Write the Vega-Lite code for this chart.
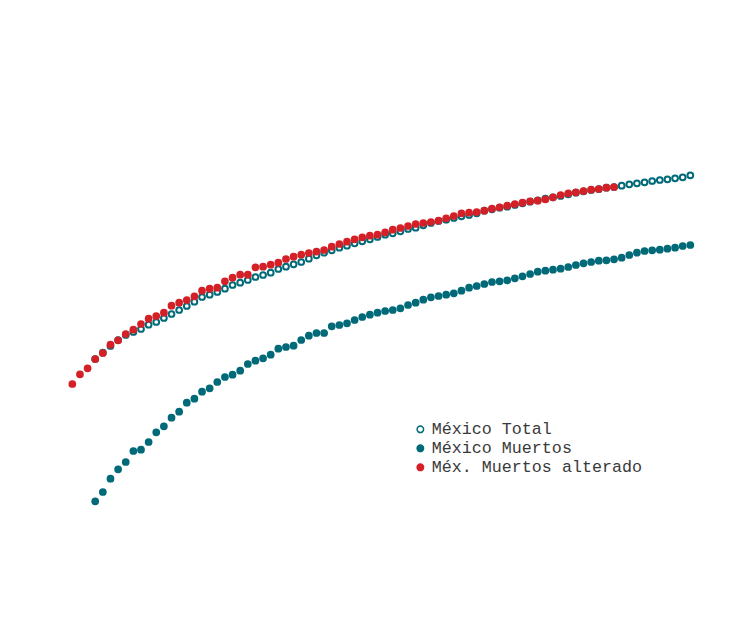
{
  "$schema": "https://vega.github.io/schema/vega-lite/v6.json",
  "width": 750,
  "height": 620,
  "autosize": {"type": "none"},
  "padding": 0,
  "background": "white",
  "config": {
    "view": {"stroke": null},
    "legend": {
      "orient": "none",
      "legendX": 412,
      "legendY": 421,
      "padding": 0,
      "labelFont": "Liberation Mono",
      "labelFontSize": 16.7,
      "labelColor": "#3a3a3a",
      "labelLimit": 0,
      "symbolSize": 42,
      "symbolStrokeWidth": 1.5,
      "rowPadding": 1,
      "labelOffset": 3
    }
  },
  "data": {
    "values": [
      {"serie":"México Total","dia":3,"valor":261},{"serie":"México Total","dia":4,"valor":267.3},{"serie":"México Total","dia":5,"valor":274},{"serie":"México Total","dia":6,"valor":280},{"serie":"México Total","dia":7,"valor":285},{"serie":"México Total","dia":8,"valor":288},{"serie":"México Total","dia":9,"valor":291},{"serie":"México Total","dia":10,"valor":295.3},{"serie":"México Total","dia":11,"valor":298},{"serie":"México Total","dia":12,"valor":302},{"serie":"México Total","dia":13,"valor":306},{"serie":"México Total","dia":14,"valor":310},{"serie":"México Total","dia":15,"valor":314},{"serie":"México Total","dia":16,"valor":318.3},{"serie":"México Total","dia":17,"valor":323},{"serie":"México Total","dia":18,"valor":325.3},{"serie":"México Total","dia":19,"valor":328},{"serie":"México Total","dia":20,"valor":331.3},{"serie":"México Total","dia":21,"valor":335},{"serie":"México Total","dia":22,"valor":337.3},{"serie":"México Total","dia":23,"valor":340},{"serie":"México Total","dia":24,"valor":343},{"serie":"México Total","dia":25,"valor":345},{"serie":"México Total","dia":26,"valor":347.3},{"serie":"México Total","dia":27,"valor":351},{"serie":"México Total","dia":28,"valor":353.3},{"serie":"México Total","dia":29,"valor":355.7},{"serie":"México Total","dia":30,"valor":358},{"serie":"México Total","dia":31,"valor":361.3},{"serie":"México Total","dia":32,"valor":364.7},{"serie":"México Total","dia":33,"valor":367.3},{"serie":"México Total","dia":34,"valor":369.7},{"serie":"México Total","dia":35,"valor":372.3},{"serie":"México Total","dia":36,"valor":374.3},{"serie":"México Total","dia":37,"valor":376.7},{"serie":"México Total","dia":38,"valor":378.7},{"serie":"México Total","dia":39,"valor":380.7},{"serie":"México Total","dia":40,"valor":383},{"serie":"México Total","dia":41,"valor":385.3},{"serie":"México Total","dia":42,"valor":386.7},{"serie":"México Total","dia":43,"valor":388.7},{"serie":"México Total","dia":44,"valor":391},{"serie":"México Total","dia":45,"valor":392.3},{"serie":"México Total","dia":46,"valor":394.7},{"serie":"México Total","dia":47,"valor":397},{"serie":"México Total","dia":48,"valor":399},{"serie":"México Total","dia":49,"valor":400.3},{"serie":"México Total","dia":50,"valor":402},{"serie":"México Total","dia":51,"valor":403.7},{"serie":"México Total","dia":52,"valor":405},{"serie":"México Total","dia":53,"valor":406.7},{"serie":"México Total","dia":54,"valor":409.3},{"serie":"México Total","dia":55,"valor":410.7},{"serie":"México Total","dia":56,"valor":412.3},{"serie":"México Total","dia":57,"valor":413.3},{"serie":"México Total","dia":58,"valor":415},{"serie":"México Total","dia":59,"valor":416.7},{"serie":"México Total","dia":60,"valor":418.3},{"serie":"México Total","dia":61,"valor":419.7},{"serie":"México Total","dia":62,"valor":421.3},{"serie":"México Total","dia":63,"valor":422.7},{"serie":"México Total","dia":64,"valor":424},{"serie":"México Total","dia":65,"valor":425.7},{"serie":"México Total","dia":66,"valor":427.3},{"serie":"México Total","dia":67,"valor":428.7},{"serie":"México Total","dia":68,"valor":430},{"serie":"México Total","dia":69,"valor":431},{"serie":"México Total","dia":70,"valor":432.3},{"serie":"México Total","dia":71,"valor":433},{"serie":"México Total","dia":72,"valor":434.3},{"serie":"México Total","dia":73,"valor":435.7},{"serie":"México Total","dia":74,"valor":436.7},{"serie":"México Total","dia":75,"valor":437.7},{"serie":"México Total","dia":76,"valor":439},{"serie":"México Total","dia":77,"valor":440},{"serie":"México Total","dia":78,"valor":440.7},{"serie":"México Total","dia":79,"valor":441.7},{"serie":"México Total","dia":80,"valor":442.7},{"serie":"México Total","dia":81,"valor":444.7},
      {"serie":"México Muertos","dia":3,"valor":118.7},{"serie":"México Muertos","dia":4,"valor":128},{"serie":"México Muertos","dia":5,"valor":141.3},{"serie":"México Muertos","dia":6,"valor":150.7},{"serie":"México Muertos","dia":7,"valor":158},{"serie":"México Muertos","dia":8,"valor":169},{"serie":"México Muertos","dia":9,"valor":170.3},{"serie":"México Muertos","dia":10,"valor":178},{"serie":"México Muertos","dia":11,"valor":187.7},{"serie":"México Muertos","dia":12,"valor":193.7},{"serie":"México Muertos","dia":13,"valor":202.3},{"serie":"México Muertos","dia":14,"valor":208.3},{"serie":"México Muertos","dia":15,"valor":217.3},{"serie":"México Muertos","dia":16,"valor":221.3},{"serie":"México Muertos","dia":17,"valor":228.3},{"serie":"México Muertos","dia":18,"valor":231.7},{"serie":"México Muertos","dia":19,"valor":238},{"serie":"México Muertos","dia":20,"valor":243},{"serie":"México Muertos","dia":21,"valor":245.3},{"serie":"México Muertos","dia":22,"valor":249.3},{"serie":"México Muertos","dia":23,"valor":256},{"serie":"México Muertos","dia":24,"valor":259.3},{"serie":"México Muertos","dia":25,"valor":261.7},{"serie":"México Muertos","dia":26,"valor":265.3},{"serie":"México Muertos","dia":27,"valor":271.3},{"serie":"México Muertos","dia":28,"valor":273},{"serie":"México Muertos","dia":29,"valor":274.3},{"serie":"México Muertos","dia":30,"valor":280},{"serie":"México Muertos","dia":31,"valor":284.3},{"serie":"México Muertos","dia":32,"valor":287},{"serie":"México Muertos","dia":33,"valor":287},{"serie":"México Muertos","dia":34,"valor":293.7},{"serie":"México Muertos","dia":35,"valor":295},{"serie":"México Muertos","dia":36,"valor":296.7},{"serie":"México Muertos","dia":37,"valor":300},{"serie":"México Muertos","dia":38,"valor":303},{"serie":"México Muertos","dia":39,"valor":305.3},{"serie":"México Muertos","dia":40,"valor":307.3},{"serie":"México Muertos","dia":41,"valor":309},{"serie":"México Muertos","dia":42,"valor":310},{"serie":"México Muertos","dia":43,"valor":311.7},{"serie":"México Muertos","dia":44,"valor":315},{"serie":"México Muertos","dia":45,"valor":317.3},{"serie":"México Muertos","dia":46,"valor":320.3},{"serie":"México Muertos","dia":47,"valor":322.7},{"serie":"México Muertos","dia":48,"valor":324},{"serie":"México Muertos","dia":49,"valor":325.3},{"serie":"México Muertos","dia":50,"valor":326.7},{"serie":"México Muertos","dia":51,"valor":329.3},{"serie":"México Muertos","dia":52,"valor":332.3},{"serie":"México Muertos","dia":53,"valor":334},{"serie":"México Muertos","dia":54,"valor":336},{"serie":"México Muertos","dia":55,"valor":338},{"serie":"México Muertos","dia":56,"valor":338.7},{"serie":"México Muertos","dia":57,"valor":339.7},{"serie":"México Muertos","dia":58,"valor":341.7},{"serie":"México Muertos","dia":59,"valor":343.7},{"serie":"México Muertos","dia":60,"valor":346},{"serie":"México Muertos","dia":61,"valor":348.3},{"serie":"México Muertos","dia":62,"valor":349.3},{"serie":"México Muertos","dia":63,"valor":350.3},{"serie":"México Muertos","dia":64,"valor":351.3},{"serie":"México Muertos","dia":65,"valor":353},{"serie":"México Muertos","dia":66,"valor":355},{"serie":"México Muertos","dia":67,"valor":356.7},{"serie":"México Muertos","dia":68,"valor":358},{"serie":"México Muertos","dia":69,"valor":359.3},{"serie":"México Muertos","dia":70,"valor":359.7},{"serie":"México Muertos","dia":71,"valor":360.7},{"serie":"México Muertos","dia":72,"valor":362.3},{"serie":"México Muertos","dia":73,"valor":365},{"serie":"México Muertos","dia":74,"valor":367.3},{"serie":"México Muertos","dia":75,"valor":369},{"serie":"México Muertos","dia":76,"valor":369.7},{"serie":"México Muertos","dia":77,"valor":370.3},{"serie":"México Muertos","dia":78,"valor":371.3},{"serie":"México Muertos","dia":79,"valor":372.3},{"serie":"México Muertos","dia":80,"valor":374},{"serie":"México Muertos","dia":81,"valor":375},
      {"serie":"Méx. Muertos alterado","dia":0,"valor":236},{"serie":"Méx. Muertos alterado","dia":1,"valor":245.7},{"serie":"Méx. Muertos alterado","dia":2,"valor":251.7},{"serie":"Méx. Muertos alterado","dia":3,"valor":261},{"serie":"Méx. Muertos alterado","dia":4,"valor":267},{"serie":"Méx. Muertos alterado","dia":5,"valor":275.3},{"serie":"Méx. Muertos alterado","dia":6,"valor":279.7},{"serie":"Méx. Muertos alterado","dia":7,"valor":286},{"serie":"Méx. Muertos alterado","dia":8,"valor":290.3},{"serie":"Méx. Muertos alterado","dia":9,"valor":296},{"serie":"Méx. Muertos alterado","dia":10,"valor":301.3},{"serie":"Méx. Muertos alterado","dia":11,"valor":304},{"serie":"Méx. Muertos alterado","dia":12,"valor":307.3},{"serie":"Méx. Muertos alterado","dia":13,"valor":314.3},{"serie":"Méx. Muertos alterado","dia":14,"valor":317.3},{"serie":"Méx. Muertos alterado","dia":15,"valor":320},{"serie":"Méx. Muertos alterado","dia":16,"valor":323.7},{"serie":"Méx. Muertos alterado","dia":17,"valor":329.3},{"serie":"Méx. Muertos alterado","dia":18,"valor":331.3},{"serie":"Méx. Muertos alterado","dia":19,"valor":332.3},{"serie":"Méx. Muertos alterado","dia":20,"valor":338.7},{"serie":"Méx. Muertos alterado","dia":21,"valor":342.3},{"serie":"Méx. Muertos alterado","dia":22,"valor":345.3},{"serie":"Méx. Muertos alterado","dia":23,"valor":345.3},{"serie":"Méx. Muertos alterado","dia":24,"valor":352.7},{"serie":"Méx. Muertos alterado","dia":25,"valor":353.3},{"serie":"Méx. Muertos alterado","dia":26,"valor":355.3},{"serie":"Méx. Muertos alterado","dia":27,"valor":357.3},{"serie":"Méx. Muertos alterado","dia":28,"valor":361},{"serie":"Méx. Muertos alterado","dia":29,"valor":363.3},{"serie":"Méx. Muertos alterado","dia":30,"valor":365.3},{"serie":"Méx. Muertos alterado","dia":31,"valor":367},{"serie":"Méx. Muertos alterado","dia":32,"valor":368.3},{"serie":"Méx. Muertos alterado","dia":33,"valor":370},{"serie":"Méx. Muertos alterado","dia":34,"valor":373.3},{"serie":"Méx. Muertos alterado","dia":35,"valor":376},{"serie":"Méx. Muertos alterado","dia":36,"valor":378.3},{"serie":"Méx. Muertos alterado","dia":37,"valor":380.7},{"serie":"Méx. Muertos alterado","dia":38,"valor":382.7},{"serie":"Méx. Muertos alterado","dia":39,"valor":384.3},{"serie":"Méx. Muertos alterado","dia":40,"valor":385.3},{"serie":"Méx. Muertos alterado","dia":41,"valor":387.7},{"serie":"Méx. Muertos alterado","dia":42,"valor":390.3},{"serie":"Méx. Muertos alterado","dia":43,"valor":392},{"serie":"Méx. Muertos alterado","dia":44,"valor":394},{"serie":"Méx. Muertos alterado","dia":45,"valor":396},{"serie":"Méx. Muertos alterado","dia":46,"valor":397},{"serie":"Méx. Muertos alterado","dia":47,"valor":398},{"serie":"Méx. Muertos alterado","dia":48,"valor":399.3},{"serie":"Méx. Muertos alterado","dia":49,"valor":401.7},{"serie":"Méx. Muertos alterado","dia":50,"valor":404},{"serie":"Méx. Muertos alterado","dia":51,"valor":406.7},{"serie":"Méx. Muertos alterado","dia":52,"valor":407.3},{"serie":"Méx. Muertos alterado","dia":53,"valor":408},{"serie":"Méx. Muertos alterado","dia":54,"valor":409.3},{"serie":"Méx. Muertos alterado","dia":55,"valor":411.3},{"serie":"Méx. Muertos alterado","dia":56,"valor":412.7},{"serie":"Méx. Muertos alterado","dia":57,"valor":414.3},{"serie":"Méx. Muertos alterado","dia":58,"valor":416},{"serie":"Méx. Muertos alterado","dia":59,"valor":417.3},{"serie":"Méx. Muertos alterado","dia":60,"valor":418.7},{"serie":"Méx. Muertos alterado","dia":61,"valor":419.3},{"serie":"Méx. Muertos alterado","dia":62,"valor":420.7},{"serie":"Méx. Muertos alterado","dia":63,"valor":422.7},{"serie":"Méx. Muertos alterado","dia":64,"valor":425},{"serie":"Méx. Muertos alterado","dia":65,"valor":426.7},{"serie":"Méx. Muertos alterado","dia":66,"valor":427.7},{"serie":"Méx. Muertos alterado","dia":67,"valor":429},{"serie":"Méx. Muertos alterado","dia":68,"valor":430.3},{"serie":"Méx. Muertos alterado","dia":69,"valor":431},{"serie":"Méx. Muertos alterado","dia":70,"valor":432.3},{"serie":"Méx. Muertos alterado","dia":71,"valor":433}
    ]
  },
  "mark": {"type": "point", "shape": "circle", "size": 33, "strokeWidth": 2, "opacity": 1, "fillOpacity": 1},
  "encoding": {
    "x": {"field": "dia", "type": "quantitative", "axis": null, "scale": {"domain": [-9.48, 88.82], "nice": false, "zero": false}},
    "y": {"field": "valor", "type": "quantitative", "axis": null, "scale": {"domain": [0, 620], "nice": false, "zero": false}},
    "fill": {"field": "serie", "type": "nominal", "title": null, "scale": {"domain": ["México Total", "México Muertos", "Méx. Muertos alterado"], "range": ["#ffffff", "#006a79", "#d42027"]}},
    "stroke": {"field": "serie", "type": "nominal", "title": null, "scale": {"domain": ["México Total", "México Muertos", "Méx. Muertos alterado"], "range": ["#006a79", "#006a79", "#d42027"]}}
  }
}
